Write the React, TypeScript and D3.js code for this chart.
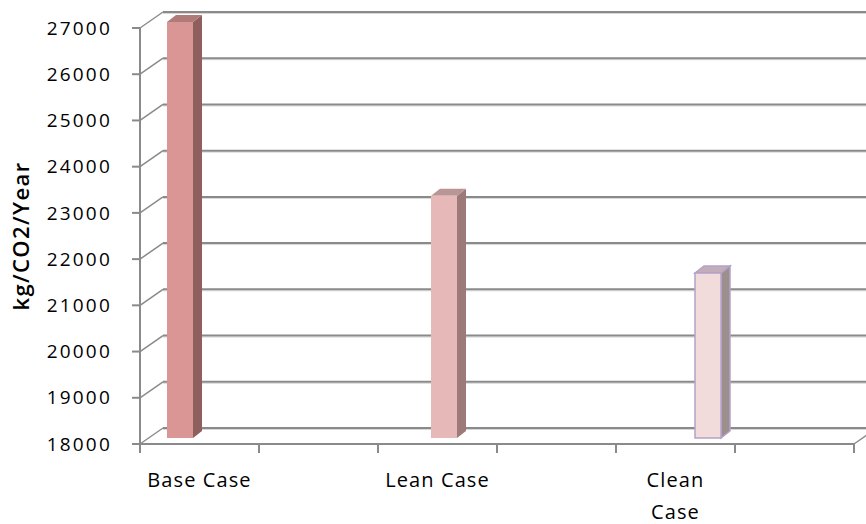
import React from 'react';
import * as d3 from 'd3';

// chart data
const categories = ['Base Case', 'Lean Case', 'Clean Case'];
const emissions = [27000, 23240, 21570];
const yTicks = [18000, 19000, 20000, 21000, 22000, 23000, 24000, 25000, 26000, 27000];
// each category takes two slots on the floor, label on the first one
const slotCount = 6;

const frontColors = ['#d99694', '#e6b9b8', '#f2dcdb'];
const sideColors = ['#8f5f5e', '#9b7a79', '#9e8f8f'];
const topColors = ['#b07a78', '#b99695', '#c2aeb8'];
const edgeColors = ['none', 'none', '#b3a2c7'];

const width = 866;
const height = 524;
// depth offset from the front axis to the back wall
const wall = { dx: 23, dy: -16 };
// depth of a single column
const col = { dx: 9, dy: -7, w: 26 };

export default function App() {
  const yFront = d3.scaleLinear().domain([18000, 27000]).range([444, 28]);
  const yBar = d3.scaleLinear().domain([18000, 27000]).range([438, 22]);

  const slots = d3.range(slotCount);
  const xFloor = d3.scaleBand<number>().domain(slots).range([140, 854]);
  // column plane sits deeper, so the perspective spreads it wider
  const xBar = d3.scaleBand<number>().domain(slots).range([114, 906]);

  const grid = '#8a8a8a';

  return (
    <svg
      width={width}
      height={height}
      style={{ position: 'absolute', left: 0, top: 0, background: '#fff' }}
      fontFamily="'Open Sans', sans-serif"
    >
      {/* back wall gridlines and side wall diagonals */}
      {yTicks.map((t) => {
        const yf = yFront(t);
        const yb = yf + wall.dy;
        return (
          <g key={t}>
            <line x1={140 + wall.dx} x2={width} y1={yb + 1.5} y2={yb + 1.5} stroke="#d6d6d6" strokeWidth={1} />
            <line x1={140 + wall.dx} x2={width} y1={yb} y2={yb} stroke={grid} strokeWidth={2} />
            <line x1={140} y1={yf} x2={140 + wall.dx} y2={yb} stroke={grid} strokeWidth={1.5} />
          </g>
        );
      })}
      {/* floor right edge */}
      <line x1={854} y1={444} x2={854 + wall.dx} y2={444 + wall.dy} stroke={grid} strokeWidth={1.5} />

      {/* columns */}
      {emissions.map((v, i) => {
        const slot = i * 2;
        const cx = (xBar(slot) as number) + xBar.bandwidth() / 2;
        const x0 = cx - col.w / 2;
        const x1 = cx + col.w / 2;
        const yt = yBar(v);
        const yb = yBar(18000);
        const side = `M${x1},${yt} L${x1 + col.dx},${yt + col.dy} L${x1 + col.dx},${yb + col.dy} L${x1},${yb} Z`;
        const top = `M${x0},${yt} L${x0 + col.dx},${yt + col.dy} L${x1 + col.dx},${yt + col.dy} L${x1},${yt} Z`;
        return (
          <g key={categories[i]}>
            <path d={side} fill={sideColors[i]} stroke={edgeColors[i]} strokeWidth={1.5} />
            <path d={top} fill={topColors[i]} stroke={edgeColors[i]} strokeWidth={1.5} />
            <rect x={x0} y={yt} width={col.w} height={yb - yt} fill={frontColors[i]} stroke={edgeColors[i]} strokeWidth={1.5} />
          </g>
        );
      })}

      {/* y axis */}
      <line x1={140} x2={140} y1={yFront(27000)} y2={yFront(18000) + 1} stroke={grid} strokeWidth={2} />
      {yTicks.map((t) => (
        <g key={t} transform={`translate(0,${yFront(t)})`}>
          <line x1={132} x2={140} stroke={grid} strokeWidth={2} />
          <text x={112} dy="0.35em" textAnchor="end" fontSize={19} letterSpacing={2.2} fill="#000">
            {t}
          </text>
        </g>
      ))}
      <text
        transform={`translate(29,${(yFront(18000) + yFront(27000)) / 2}) rotate(-90)`}
        textAnchor="middle"
        fontSize={22}
        fontWeight={600}
        letterSpacing={1.4}
        fill="#000"
      >
        kg/CO2/Year
      </text>

      {/* x axis */}
      <line x1={140} x2={854} y1={444} y2={444} stroke={grid} strokeWidth={2} />
      {d3.range(slotCount + 1).map((k) => {
        const x = 140 + k * xFloor.step();
        return <line key={k} x1={x} x2={x} y1={444} y2={453} stroke={grid} strokeWidth={2} />;
      })}
      {categories.map((c, i) => {
        const slot = i * 2;
        const cx = (xFloor(slot) as number) + xFloor.bandwidth() / 2;
        const lines = c === 'Clean Case' ? ['Clean', 'Case'] : [c];
        return (
          <text key={c} x={cx} y={487} textAnchor="middle" fontSize={20} letterSpacing={1.1} fill="#000">
            {lines.map((l, j) => (
              <tspan key={l} x={cx} dy={j === 0 ? 0 : 32}>
                {l}
              </tspan>
            ))}
          </text>
        );
      })}
    </svg>
  );
}
